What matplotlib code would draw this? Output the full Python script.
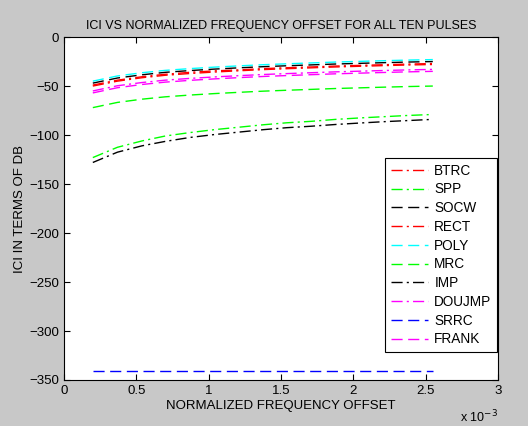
import matplotlib.pyplot as plt
from matplotlib.ticker import FuncFormatter
import numpy as np

plt.rcParams['font.family'] = ['Liberation Sans', 'DejaVu Sans']

# normalized frequency offset
offset = [0.20e-3, 0.37e-3, 0.54e-3, 0.70e-3, 0.87e-3, 1.04e-3, 1.21e-3, 1.38e-3,
          1.54e-3, 1.71e-3, 1.88e-3, 2.05e-3, 2.22e-3, 2.38e-3, 2.55e-3]

btrc = [-49, -44, -40.5, -38, -36, -34.5, -33.5, -32.2, -31.3, -30.5, -29.6, -28.9, -28.2, -27.6, -27]
spp = [-123, -112.5, -106, -101, -97.5, -94.5, -92, -89.5, -87.5, -86, -84, -82.5, -81.2, -80, -79]
socw = [-47, -41.8, -38.5, -36, -34.2, -32.7, -31.4, -30.2, -29.3, -28.4, -27.5, -26.8, -26.1, -25.5, -25]
rect = [-50, -45, -41.5, -39, -37.2, -35.7, -34.4, -33.2, -32.3, -31.4, -30.5, -29.8, -29.1, -28.5, -28]
poly = [-45, -39.7, -36.4, -34, -32.2, -30.7, -29.4, -28.2, -27.3, -26.4, -25.5, -24.8, -24.1, -23.5, -23]
mrc = [-72, -66.7, -63.4, -61, -59.2, -57.7, -56.4, -55.2, -54.3, -53.4, -52.5, -51.8, -51.1, -50.5, -50]
imp = [-128, -117.5, -111, -106.5, -102.5, -99.5, -97, -94.5, -92.5, -91, -89.2, -87.7, -86.3, -85.2, -84]
doujmp = [-55, -49.7, -46.4, -44, -42.2, -40.7, -39.4, -38.2, -37.3, -36.4, -35.5, -34.8, -34.1, -33.5, -33]
srrc = [-341] * 15
frank = [-57, -51.7, -48.4, -46, -44.2, -42.7, -41.4, -40.2, -39.3, -38.4, -37.5, -36.8, -36.1, -35.5, -35]

labels = ['BTRC', 'SPP', 'SOCW', 'RECT', 'POLY', 'MRC', 'IMP', 'DOUJMP', 'SRRC', 'FRANK']
series = [btrc, spp, socw, rect, poly, mrc, imp, doujmp, srrc, frank]
colors = ['#ff0000', '#00ff00', '#000000', '#ff0000', '#00ffff',
          '#00ff00', '#000000', '#ff00ff', '#0000ff', '#ff00ff']
styles = ['-.', '-.', '--', '-.', '--', '--', '-.', '-.', '--', '--']

fig = plt.figure(figsize=(5.28, 4.26), dpi=100, facecolor='#c8c8c8')
ax = fig.add_axes([0.121, 0.108, 0.822, 0.805])

for y, lab, c, ls in zip(series, labels, colors, styles):
    ax.plot(offset, y, ls, color=c, lw=1.0, label=lab, dashes=(8, 4) if ls == '--' else (8, 3, 1.5, 3))

ax.set_xlim(0, 3e-3)
ax.set_ylim(-350, 0)
ax.set_xticks(np.arange(0, 3.01e-3, 0.5e-3))
ax.set_yticks(np.arange(-350, 1, 50))
ax.xaxis.set_major_formatter(FuncFormatter(lambda v, p: f'{v * 1e3:g}'))
ax.tick_params(direction='in', top=True, right=True, labelsize=9.5, length=4)
ax.text(1.0, -0.085, r'x 10$^{-3}$', transform=ax.transAxes, ha='right', va='top', fontsize=9)

ax.set_title('ICI VS NORMALIZED FREQUENCY OFFSET FOR ALL TEN PULSES', fontsize=9, pad=6)
ax.set_xlabel('NORMALIZED FREQUENCY OFFSET', fontsize=9.5, labelpad=2)
ax.set_ylabel('ICI IN TERMS OF DB', fontsize=9.5, labelpad=2)

leg = ax.legend(loc='lower right', bbox_to_anchor=(0.998, 0.082), borderaxespad=0,
                fontsize=9.8, fancybox=False, edgecolor='black', framealpha=1,
                handlelength=2.7, handletextpad=0.5, labelspacing=0.35, borderpad=0.4)
leg.get_frame().set_linewidth(0.8)

fig.savefig('out.png', dpi=100, facecolor=fig.get_facecolor())
